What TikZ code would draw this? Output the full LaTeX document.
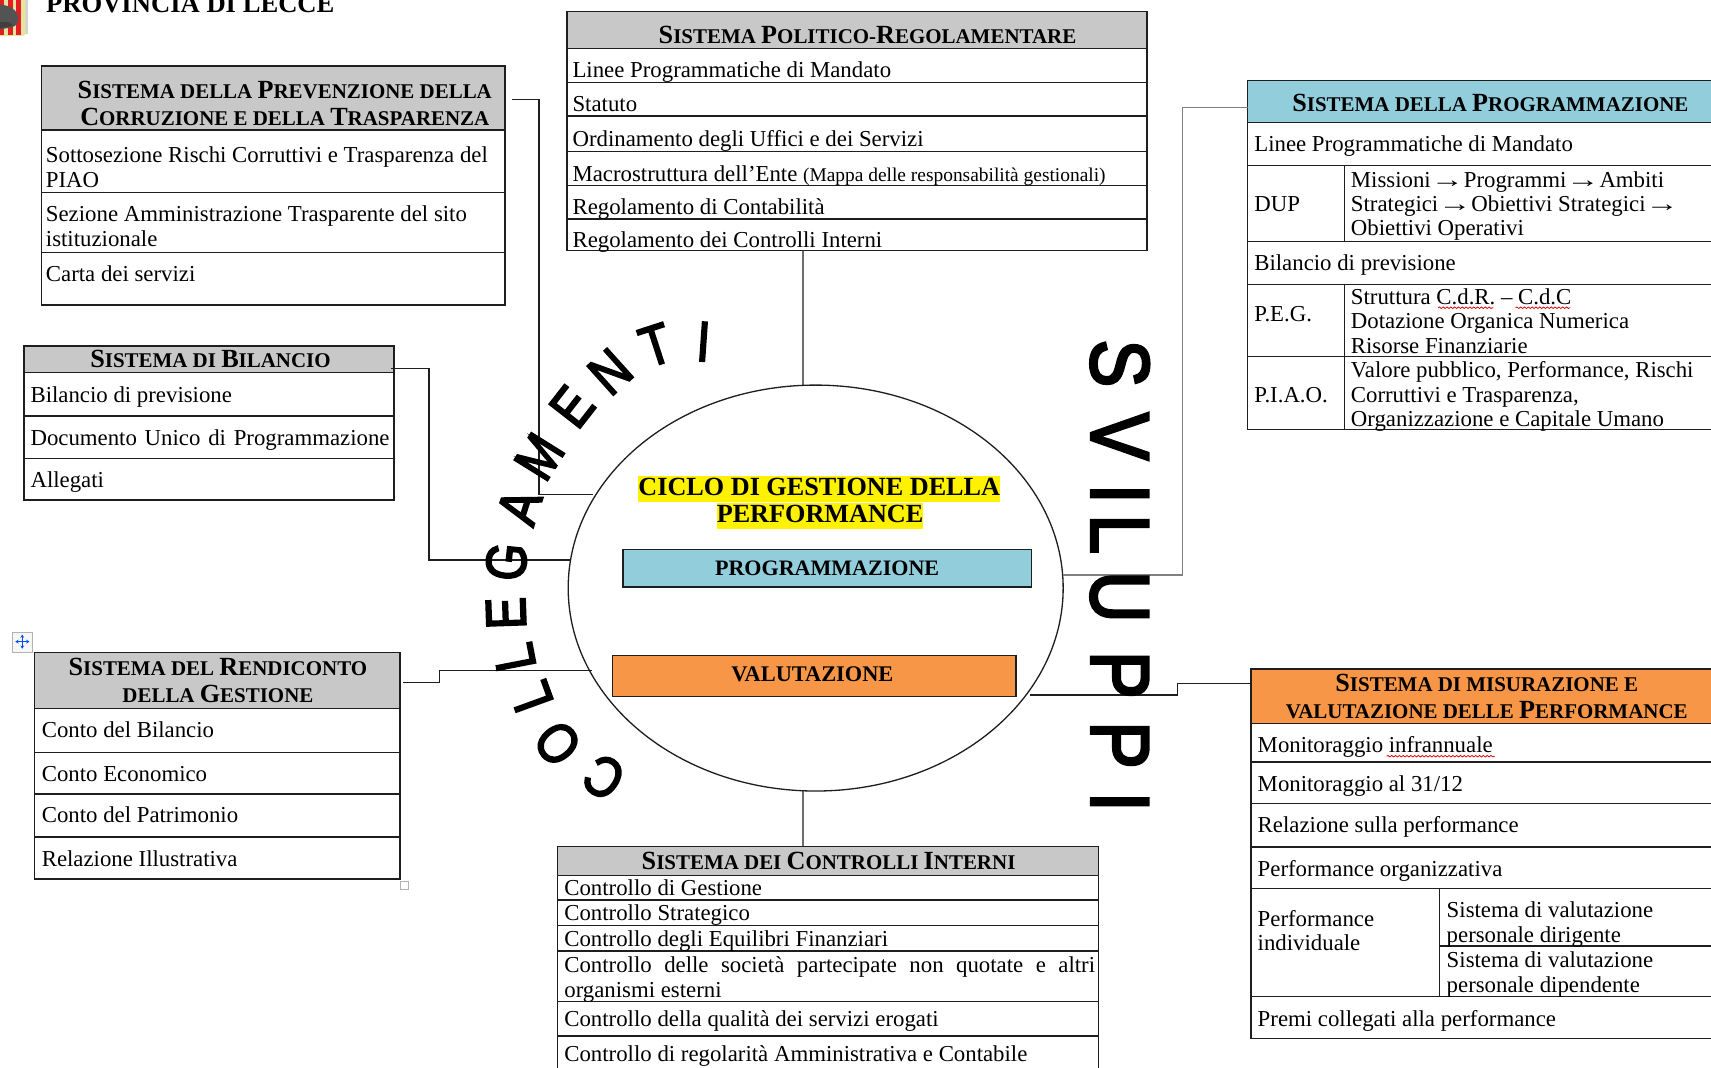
\documentclass[tikz,border=0pt]{standalone}
\usepackage{fontspec}
\usepackage{graphicx}
\setmainfont{Liberation Serif}
\newfontface\wafont[FakeBold=3.5]{Liberation Sans}
\usetikzlibrary{shapes.geometric,arrows.meta,decorations.pathmorphing}
\definecolor{hgray}{HTML}{C8C8C8}
\definecolor{hblue}{HTML}{92CDDC}
\definecolor{horange}{HTML}{F79646}
\definecolor{ink}{HTML}{1E1E1E}
\definecolor{crestred}{HTML}{E41E20}
\definecolor{crestpale}{HTML}{E4E4A0}
\newcommand\bodyfont{\fontsize{20.9}{22.3}\selectfont}
\newcommand\hdrfont{\fontsize{19.2}{25}\selectfont\bfseries}
\newcommand\HS[1]{{\fontsize{24}{25}\selectfont #1}}
\newcommand\lns[1]{\begin{tabular}[t]{@{}l@{}}#1\end{tabular}}
\newcommand\clns[1]{\begin{tabular}[t]{@{}c@{}}#1\end{tabular}}
\newcommand\arr{\scalebox{1.45}[1]{→}}
\newcommand\tblframe[7]{% name x1 y1 x2 y2 headerbottom colour
  \fill[#7] (#2,#3) rectangle (#4,#6);
  \pgfmathsetmacro\fw{#4-#2}\pgfmathsetmacro\fh{#5-#3}
  \node[frame,minimum width=\fw pt,minimum height=\fh pt] (#1) at (#2,#3) {};
  \draw[rule] (#2,#6) -- (#4,#6);}
\tikzset{
  x=1pt,y=-1pt,
  frame/.style={draw=ink,line width=1.4pt,rectangle,anchor=north west,inner sep=0,outer sep=0},
  rule/.style={draw=ink,line width=1.3pt},
  txt/.style={anchor=base west,inner sep=0,outer sep=0,yshift=-1pt,font=\bodyfont,text=black},
  hdr/.style={anchor=base,inner sep=0,outer sep=0,yshift=-1pt,font=\hdrfont,text=black},
  link/.style={draw=ink,line width=1.3pt},
  band/.style={draw=ink,line width=1.4pt,rectangle,anchor=north west,inner sep=0,outer sep=0},
  bandt/.style={anchor=base,inner sep=0,outer sep=0,font=\fontsize{20.5}{24}\selectfont\bfseries},
  wa/.style={inner sep=0,outer sep=0,anchor=center,font=\wafont\fontsize{51.7}{52}\selectfont},
  wb/.style={inner sep=0,outer sep=0,anchor=base,rotate=-90,font=\wafont\fontsize{76}{76}\selectfont},
  squig/.style={draw=red!85!black,line width=.7pt,decorate,decoration={snake,amplitude=.7pt,segment length=3.5pt}},
}
\begin{document}
\begin{tikzpicture}
\useasboundingbox (0,0) rectangle (1568,978);
\clip (0,0) rectangle (1568,978);

% crest and heading
\fill[gray!35] (23,-2) rectangle (25.5,31);
\fill[crestpale,rounded corners=3pt] (-4,-4) rectangle (23.5,33);
\foreach \xa in {0,7.5,15} \fill[crestred] (\xa,-2) rectangle (\xa+4,32);
\fill[gray!65!black] (0,4) .. controls (9,5) and (15,9) .. (17,15) .. controls (17.5,20) and (15,24) .. (11,25) -- (0,27) -- cycle;
\fill[black!75] (0,20) -- (9,20.5) -- (12,23.5) -- (0,26) -- cycle;
\node[anchor=base west,inner sep=0,font=\fontsize{24.4}{26}\selectfont\bfseries] (provincia) at (42,11.6) {PROVINCIA DI LECCE};

% central ellipse
\node[ellipse,draw=ink,line width=1.2pt,minimum width=453.6pt,minimum height=372pt,inner sep=0,outer sep=0] (ciclo) at (747.5,538.9) {};
\node[anchor=base,inner sep=0,font=\fontsize{24}{25}\selectfont\bfseries,fill=yellow,text height=17.5pt,text depth=6.5pt] (ciclo1) at (750.8,453.7) {CICLO DI GESTIONE DELLA};
\node[anchor=base,inner sep=0,font=\fontsize{24}{25}\selectfont\bfseries,fill=yellow,text height=17.5pt,text depth=6.5pt] (ciclo2) at (751.5,478.7) {PERFORMANCE};
\fill[hblue] (570.7,503.4) rectangle (945.4,538);
\node[band,minimum width=374.7pt,minimum height=34.6pt] (bprog) at (570.7,503.4) {};
\node[bandt,font=\fontsize{20.2}{24}\selectfont\bfseries] (tprog) at (758,527) {PROGRAMMAZIONE};
\fill[horange] (561.4,600.9) rectangle (930.9,638.1);
\node[band,minimum width=369.5pt,minimum height=37.2pt] (bval) at (561.4,600.9) {};
\node[bandt] (tval) at (744.5,624.3) {VALUTAZIONE};

% SISTEMA POLITICO-REGOLAMENTARE
\tblframe{pol}{519.7}{10.7}{1051}{229.7}{44.3}{hgray}
\foreach \yy in {75.4,106.3,139,169.8,200.7} \draw[rule] (519.7,\yy) -- (1051,\yy);
\node[hdr] (polh) at (795,39) {\HS{S}ISTEMA \HS{P}OLITICO-\HS{R}EGOLAMENTARE};
\node[txt] (pol1) at (524.7,70.3) {Linee Programmatiche di Mandato};
\node[txt] (pol2) at (524.7,100.8) {Statuto};
\node[txt] (pol3) at (524.7,132.9) {Ordinamento degli Uffici e dei Servizi};
\node[txt] (pol4) at (524.7,165) {Macrostruttura dell’Ente {\fontsize{17.8}{18}\selectfont (Mappa delle responsabilità gestionali)}};
\node[txt] (pol5) at (524.7,195.5) {Regolamento di Contabilità};
\node[txt] (pol6) at (524.7,226) {Regolamento dei Controlli Interni};

% SISTEMA DELLA PREVENZIONE
\tblframe{pre}{37.9}{60.5}{463}{279.5}{119.1}{hgray}
\foreach \yy in {176.6,231.2} \draw[rule] (37.9,\yy) -- (463,\yy);
\node[hdr] (preh) at (261,89.2) {\clns{\HS{S}ISTEMA DELLA \HS{P}REVENZIONE DELLA\\\HS{C}ORRUZIONE E DELLA \HS{T}RASPARENZA}};
\node[txt] (pre1) at (42.1,148.2) {\lns{Sottosezione Rischi Corruttivi e Trasparenza del\\PIAO}};
\node[txt] (pre2) at (42.1,202.2) {\lns{Sezione Amministrazione Trasparente del sito\\istituzionale}};
\node[txt] (pre3) at (42.1,256.6) {Carta dei servizi};

% SISTEMA DI BILANCIO
\tblframe{bil}{22.1}{317.1}{361.2}{458.2}{341.5}{hgray}
\foreach \yy in {381.2,420} \draw[rule] (22.1,\yy) -- (361.2,\yy);
\node[hdr] (bilh) at (192.9,336) {\HS{S}ISTEMA DI \HS{B}ILANCIO};
\node[txt] (bil1) at (28,367.5) {Bilancio di previsione};
\node[txt] (bil2) at (28,407.2) {\makebox[329pt][s]{Documento Unico di Programmazione}};
\node[txt] (bil3) at (28,445.4) {Allegati};

% SISTEMA DEL RENDICONTO
\tblframe{ren}{31.7}{598.1}{366.6}{805.6}{649.4}{hgray}
\foreach \yy in {689.4,727.6,767} \draw[rule] (31.7,\yy) -- (366.6,\yy);
\node[hdr] (renh) at (199.7,617.7) {\clns{\HS{S}ISTEMA DEL \HS{R}ENDICONTO\\DELLA \HS{G}ESTIONE}};
\node[txt] (ren1) at (38.3,675.1) {Conto del Bilancio};
\node[txt] (ren2) at (38.3,714.8) {Conto Economico};
\node[txt] (ren3) at (38.3,753) {Conto del Patrimonio};
\node[txt] (ren4) at (38.3,792.7) {Relazione Illustrativa};
% table handles
\node[draw=gray!60,fill=gray!6,line width=.8pt,minimum size=18.5pt,inner sep=0,anchor=north west] (movebox) at (10.8,578.9) {};
\draw[blue!70!cyan,line width=.9pt,{Stealth[length=3pt,width=3.5pt]}-{Stealth[length=3pt,width=3.5pt]}] (14,588) -- (27,588);
\draw[blue!70!cyan,line width=.9pt,{Stealth[length=3pt,width=3.5pt]}-{Stealth[length=3pt,width=3.5pt]}] (20.4,581.5) -- (20.4,594.5);
\node[draw=gray!60,fill=white,line width=.8pt,minimum size=7.5pt,inner sep=0,anchor=north west] (sizebox) at (366.3,807.4) {};

% SISTEMA DEI CONTROLLI INTERNI
\tblframe{con}{510.8}{775.9}{1006.8}{990}{802.5}{hgray}
\foreach \yy in {824.8,848,871.5,918,949.4} \draw[rule] (510.8,\yy) -- (1006.8,\yy);
\node[hdr] (conh) at (759.3,795.8) {\HS{S}ISTEMA DEI \HS{C}ONTROLLI \HS{I}NTERNI};
\node[txt] (con1) at (517.2,819.3) {Controllo di Gestione};
\node[txt] (con2) at (517.2,842.5) {Controllo Strategico};
\node[txt] (con3) at (517.2,866.3) {Controllo degli Equilibri Finanziari};
\node[txt] (con4) at (517.2,890.5) {\lns{\makebox[486.3pt][s]{Controllo delle società partecipate non quotate e altri}\\organismi esterni}};
\node[txt] (con5) at (517.2,940) {Controllo della qualità dei servizi erogati};
\node[txt] (con6) at (517.2,972) {Controllo di regolarità Amministrativa e Contabile};

% SISTEMA DELLA PROGRAMMAZIONE
\tblframe{pro}{1143.4}{73.9}{1580}{393.4}{112.1}{hblue}
\foreach \yy in {151.8,221.5,260.5,326.9} \draw[rule] (1143.4,\yy) -- (1580,\yy);
\draw[rule] (1232,151.8) -- (1232,221.5);
\draw[rule] (1232,260.5) -- (1232,393.4);
\node[hdr] (proh) at (1365.8,100.8) {\HS{S}ISTEMA DELLA \HS{P}ROGRAMMAZIONE};
\node[txt] (pro1) at (1149.5,137.5) {Linee Programmatiche di Mandato};
\node[txt] (pro2) at (1149.5,192.5) {DUP};
\node[txt] (pro3) at (1238,170.5) {\lns{Missioni\arr Programmi\arr Ambiti\\Strategici\arr Obiettivi Strategici\arr\\Obiettivi Operativi}};
\node[txt] (pro4) at (1149.5,246.8) {Bilancio di previsione};
\node[txt] (pro5) at (1149.5,293.9) {P.E.G.};
\node[txt] (pro6) at (1238,278) {\lns{Struttura C.d.R. – C.d.C\\Dotazione Organica Numerica\\Risorse Finanziarie}};
\node[txt] (pro7) at (1149.5,368.1) {P.I.A.O.};
\node[txt] (pro8) at (1238,345.2) {\lns{Valore pubblico, Performance, Rischi\\Corruttivi e Trasparenza,\\Organizzazione e Capitale Umano}};
\draw[squig] (1318,282) -- (1368.5,282);
\draw[squig] (1389,282) -- (1439,282);

% SISTEMA DI MISURAZIONE
\tblframe{mis}{1146.4}{613.1}{1580}{951.6}{662.9}{horange}
\foreach \yy in {698.3,736.5,776.2,814.4,913.4} \draw[rule] (1146.4,\yy) -- (1580,\yy);
\draw[rule] (1319,814.4) -- (1319,913.4);
\draw[rule] (1319,866.9) -- (1580,866.9);
\node[hdr] (mish) at (1362.5,632.3) {\clns{\HS{S}ISTEMA DI MISURAZIONE E\\VALUTAZIONE DELLE \HS{P}ERFORMANCE}};
\node[txt] (mis1) at (1152.6,688.9) {Monitoraggio infrannuale};
\draw[squig] (1270.8,693) -- (1370,693);
\node[txt] (mis2) at (1152.6,724) {Monitoraggio al 31/12};
\node[txt] (mis3) at (1152.6,762.2) {Relazione sulla performance};
\node[txt] (mis4) at (1152.6,801.9) {Performance organizzativa};
\node[txt] (mis5) at (1152.6,847.7) {\lns{Performance\\individuale}};
\node[txt] (mis6) at (1325.8,840) {\lns{Sistema di valutazione\\personale dirigente}};
\node[txt] (mis7) at (1325.8,885.9) {\lns{Sistema di valutazione\\personale dipendente}};
\node[txt] (mis8) at (1152.6,939.4) {Premi collegati alla performance};

% connectors
\draw[link] ([shift={(6,30.5)}]pre.north east) -| ([xshift=31pt]pre.east) |- ([xshift=-3pt]ciclo.157.2);
\draw[link] ([shift={(-3,20.5)}]bil.north east) -| ([xshift=32pt]bil.east) |- ([shift={(1.5,-25.9)}]ciclo.west);
\draw[link] ([shift={(2.6,27.5)}]ren.north east) -- ++(33.4,0) |- ([xshift=2pt]ciclo.200);
\draw[link] ([xshift=-49.5pt]pol.south) -- ([xshift=-11.6pt]ciclo.north);
\draw[link] ([xshift=-11.6pt]ciclo.south) -- ([xshift=-22.9pt]con.north);
\draw[link,draw=gray] (ciclo.3.2) -| ([shift={(-59.5,24.5)}]pro.north west) -- ([yshift=-24.5pt]pro.north west);
\draw[link] ([xshift=4pt]ciclo.-27.5) -- ++(135,0) |- ([yshift=-13.5pt]mis.north west);

% word-art letters
\foreach \l/\xa/\ya/\r [count=\i] in {
  C/553.5/712.4/147, O/511/681.2/130, L/486.9/638.4/110, L/471.6/602.4/101,
  E/463.7/562/92, G/464.1/514.8/84, A/476/464.3/72, M/494.3/418.5/58,
  E/524.2/372.7/52, N/559.2/340.6/42, T/600.9/316.2/18, I/644.7/313.1/-4}
  \node[wa,rotate=\r] (coll\i) at (\xa,\ya) {\scalebox{.85}[1]{\l}};
\foreach \l/\ya [count=\i] in {S/333, V/400, I/452.5, L/489.5, U/547, P/618.5, P/682.7, I/734.7}
  \node[wb] (svil\i) at (1000,\ya) {\scalebox{.86}[1]{\l}};
\end{tikzpicture}
\end{document}
